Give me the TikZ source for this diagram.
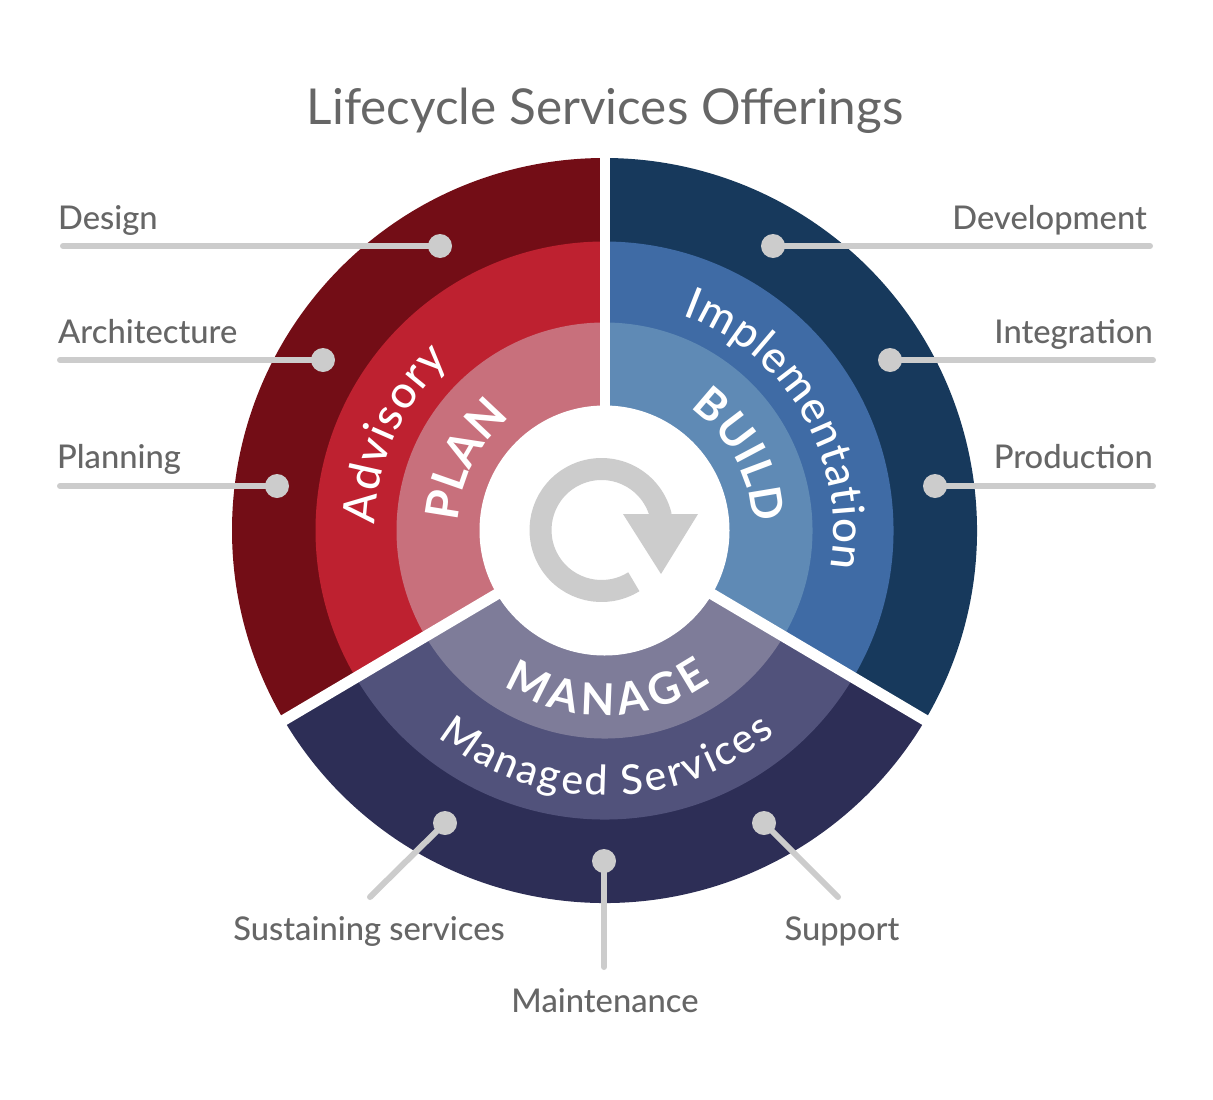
\documentclass[tikz,border=0pt]{standalone}
\usepackage{fontspec}
\setmainfont{Lato}
\newfontfamily\ttl{Lato}
\newfontfamily\med{Lato Medium}
\usetikzlibrary{decorations.text}
\definecolor{txt}{HTML}{666666}
\definecolor{lead}{HTML}{CCCCCC}
\definecolor{ro}{HTML}{730D16}\definecolor{rm}{HTML}{BE2130}\definecolor{ri}{HTML}{C8707C}
\definecolor{bo}{HTML}{17395C}\definecolor{bm}{HTML}{3F6BA5}\definecolor{bi}{HTML}{5F8AB5}
\definecolor{po}{HTML}{2D2E56}\definecolor{pm}{HTML}{51527B}\definecolor{pi}{HTML}{7E7C99}
\def\cx{604.5}\def\cy{-530.5}
\newcommand{\sectorB}[4]{\fill[#1] (\cx,\cy) -- ++(#2:#4) arc (#2:#3:#4) -- cycle;}
\newcommand{\arctext}[6]{% text, font, color, radius, a, b
  \path[decorate,decoration={text along path,text align={fit to path},text={|#2\color{#3}|#1}}]
    (\cx,\cy) ++(#5:#4) arc (#5:#6:#4);}
\tikzset{
  x=1pt,y=1pt,
  leadline/.style={draw=lead,line width=6pt,line cap=round},
  leaddot/.style={circle,fill=lead,minimum size=24pt,inner sep=0pt},
  label/.style={text=txt,font=\med\fontsize{32.7}{36}\selectfont,inner sep=0pt},
  gap/.style={draw=white,line width=10pt},
  gapd/.style={draw=white,line width=11pt},
}
\begin{document}
\begin{tikzpicture}
\useasboundingbox (0,-1100) rectangle (1213,0);
\node[anchor=base,inner sep=0pt,text=txt,font=\ttl\fontsize{49.5}{56}\selectfont] (title) at (605,-124) {Lifecycle Services Offerings};
% sectors
\sectorB{ro}{90}{210.6}{372.5}\sectorB{rm}{90}{210.6}{289}\sectorB{ri}{90}{210.6}{208}
\sectorB{bo}{-30.6}{90}{372.5}\sectorB{bm}{-30.6}{90}{289}\sectorB{bi}{-30.6}{90}{208}
\sectorB{po}{210.6}{329.4}{372.5}\sectorB{pm}{210.6}{329.4}{289}\sectorB{pi}{210.6}{329.4}{208}
\coordinate (c) at (\cx,\cy);
\draw[gap] (c) -- ++(90:385);
\draw[gapd] (c) -- ++(210.6:385);
\draw[gapd] (c) -- ++(329.4:385);
\node[circle,fill=white,minimum size=250pt,inner sep=0pt] (hole) at (c) {};
% cycle arrow
\draw[draw=lead,line width=22pt] (601.5,-530) ++(-58:61) arc (-58:-347:61);
\fill[lead] (623,-514) -- (698,-514) -- (661,-574) -- cycle;
% curved texts
\arctext{Advisory}{\med\fontsize{45}{48}\selectfont}{white}{230}{178.5}{132.5}
\arctext{Implementation}{\med\fontsize{44}{48}\selectfont}{white}{229}{70}{-9.5}
\arctext{Managed Services}{\med\fontsize{41}{44}\selectfont}{white}{265}{231}{310}
\arctext{PLAN}{\bfseries\fontsize{46}{48}\selectfont}{white}{147}{176.5}{132}
\arctext{BUILD}{\bfseries\fontsize{44}{48}\selectfont}{white}{149}{55}{3}
\arctext{MANAGE}{\bfseries\fontsize{44}{48}\selectfont}{white}{185}{237}{305}
% leaders
\node[leaddot] (d1) at (440,-246) {};
\node[leaddot] (d2) at (323,-360) {};
\node[leaddot] (d3) at (277,-486) {};
\node[leaddot] (d4) at (773,-246) {};
\node[leaddot] (d5) at (890,-360) {};
\node[leaddot] (d6) at (935,-486) {};
\node[leaddot] (d7) at (445,-823) {};
\node[leaddot] (d8) at (604,-861) {};
\node[leaddot] (d9) at (764,-823) {};
\coordinate (e1) at (63,-246);
\coordinate (e2) at (60,-360);
\coordinate (e3) at (60,-486);
\coordinate (e4) at (1150,-246);
\coordinate (e5) at (1153,-360);
\coordinate (e6) at (1153,-486);
\coordinate (e7) at (370,-897);
\coordinate (e8) at (604,-967);
\coordinate (e9) at (838,-897);
\foreach \i in {1,...,9} \draw[leadline] (d\i.center) -- (e\i);
\node[label,anchor=base west] (l1) at (58,-229) {Design};
\node[label,anchor=base west] (l2) at (58,-343) {Architecture};
\node[label,anchor=base west] (l3) at (57,-468) {Planning};
\node[label,anchor=base east] (l4) at (1147,-229) {Development};
\node[label,anchor=base east] (l5) at (1153,-343) {Integration};
\node[label,anchor=base east] (l6) at (1153,-468) {Production};
\node[label,anchor=base] (l7) at (369,-940) {Sustaining services};
\node[label,anchor=base] (l8) at (605,-1012) {Maintenance};
\node[label,anchor=base] (l9) at (842,-940) {Support};
\end{tikzpicture}
\end{document}
